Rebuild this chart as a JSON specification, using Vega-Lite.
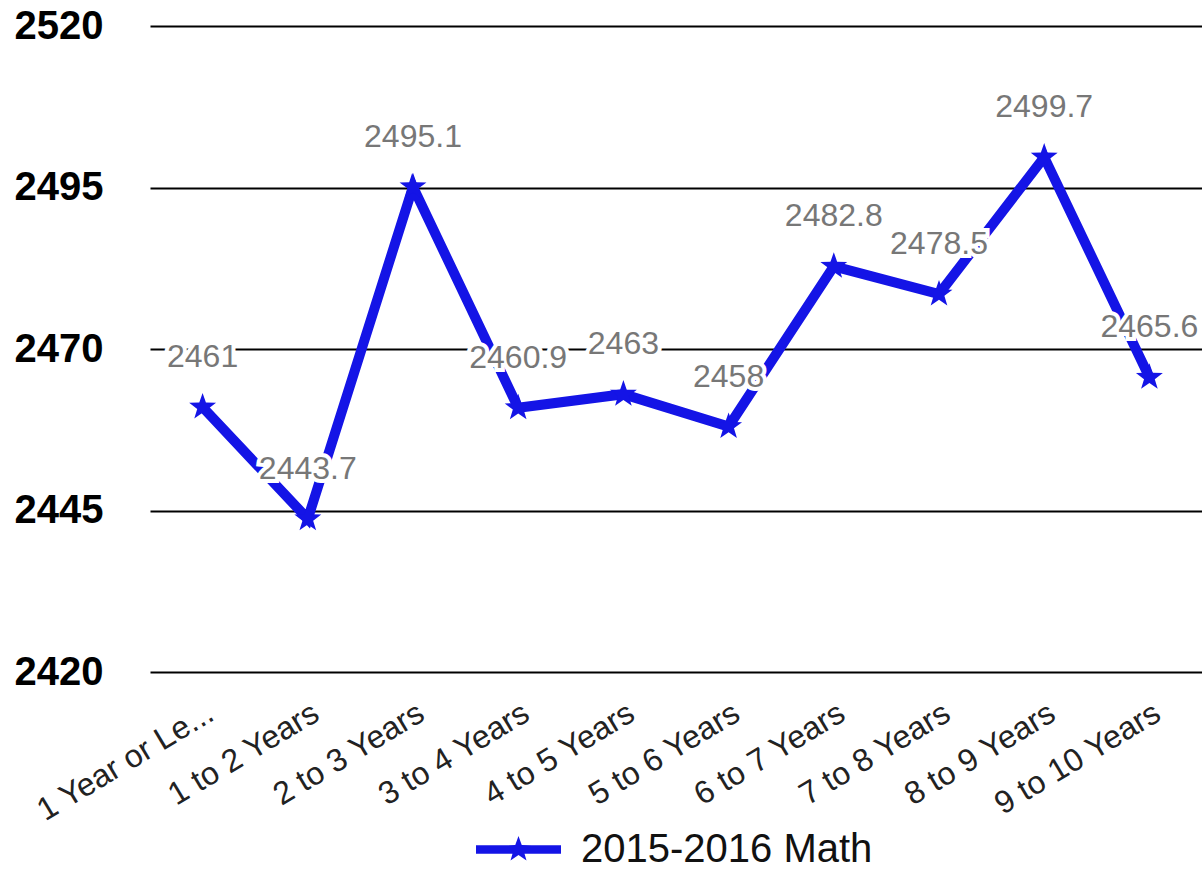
{
  "$schema": "https://vega.github.io/schema/vega-lite/v6.json",
  "width": 1052,
  "height": 646,
  "autosize": {"type": "none"},
  "padding": {"left": 150, "top": 26, "right": 0, "bottom": 197},
  "background": "white",
  "config": {"view": {"stroke": null}, "font": "Liberation Sans"},
  "data": {
    "values": [
      {"tenure": "1 Year or Less", "score": 2461, "series": "2015-2016 Math"},
      {"tenure": "1 to 2 Years", "score": 2443.7, "series": "2015-2016 Math"},
      {"tenure": "2 to 3 Years", "score": 2495.1, "series": "2015-2016 Math"},
      {"tenure": "3 to 4 Years", "score": 2460.9, "series": "2015-2016 Math"},
      {"tenure": "4 to 5 Years", "score": 2463, "series": "2015-2016 Math"},
      {"tenure": "5 to 6 Years", "score": 2458, "series": "2015-2016 Math"},
      {"tenure": "6 to 7 Years", "score": 2482.8, "series": "2015-2016 Math"},
      {"tenure": "7 to 8 Years", "score": 2478.5, "series": "2015-2016 Math"},
      {"tenure": "8 to 9 Years", "score": 2499.7, "series": "2015-2016 Math"},
      {"tenure": "9 to 10 Years", "score": 2465.6, "series": "2015-2016 Math"}
    ]
  },
  "encoding": {
    "x": {
      "field": "tenure",
      "type": "nominal",
      "sort": null,
      "axis": {
        "title": null,
        "orient": "bottom",
        "labelAngle": -31,
        "labelFontSize": 32,
        "labelColor": "#222222",
        "labelLimit": 400,
        "domain": false,
        "ticks": false,
        "grid": false,
        "labelPadding": 25,
        "labelExpr": "datum.label == '1 Year or Less' ? '1 Year or Le...' : datum.label"
      }
    },
    "y": {
      "field": "score",
      "type": "quantitative",
      "scale": {"domain": [2420, 2520], "zero": false, "nice": false},
      "axis": {
        "title": null,
        "format": "d",
        "values": [2420, 2445, 2470, 2495, 2520],
        "labelFontSize": 40,
        "labelFontWeight": "bold",
        "labelColor": "#000000",
        "domain": false,
        "ticks": false,
        "gridColor": "#000000",
        "gridWidth": 2,
        "gridOpacity": 1,
        "labelPadding": 47
      }
    }
  },
  "layer": [
    {
      "mark": {"type": "line", "strokeWidth": 10, "color": "#1414e6"},
      "encoding": {}
    },
    {
      "mark": {
        "type": "point",
        "shape": "M0,-1L0.235,-0.324L0.951,-0.309L0.38,0.124L0.588,0.809L0,0.4L-0.588,0.809L-0.38,0.124L-0.951,-0.309L-0.235,-0.324Z",
        "filled": true,
        "size": 800,
        "opacity": 1
      },
      "encoding": {
        "color": {
          "field": "series",
          "type": "nominal",
          "scale": {"domain": ["2015-2016 Math"], "range": ["#1414e6"]},
          "legend": {
            "orient": "none",
            "legendX": 326,
            "legendY": 781,
            "title": null,
            "padding": 0,
            "symbolType": "M-1,-0.1L1,-0.1L1,0.1L-1,0.1Z M0,-0.32L0.0764,-0.105L0.304,-0.099L0.124,0.04L0.188,0.259L0,0.13L-0.188,0.259L-0.124,0.04L-0.304,-0.099L-0.0764,-0.105Z",
            "symbolSize": 7225,
            "symbolStrokeWidth": 0,
            "symbolOpacity": 1,
            "labelFontSize": 40,
            "labelColor": "#111111",
            "labelLimit": 600,
            "labelOffset": 20
          }
        }
      }
    },
    {
      "mark": {"type": "text", "dy": -50, "fontSize": 32, "stroke": "white", "strokeWidth": 8, "fill": "white", "baseline": "middle"},
      "encoding": {"text": {"field": "score", "type": "quantitative", "format": ""}}
    },
    {
      "mark": {"type": "text", "dy": -50, "fontSize": 32, "fill": "#777777", "baseline": "middle"},
      "encoding": {"text": {"field": "score", "type": "quantitative", "format": ""}}
    }
  ]
}
